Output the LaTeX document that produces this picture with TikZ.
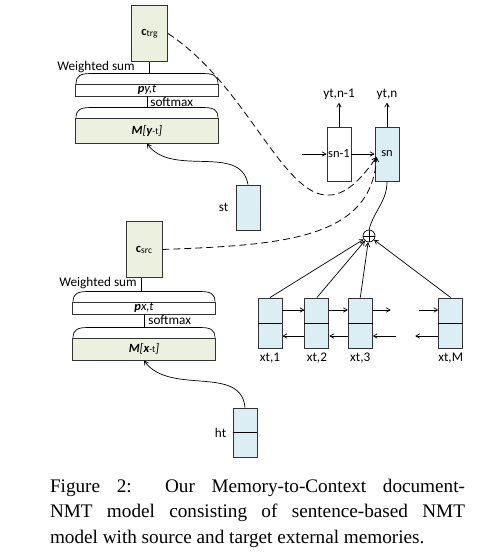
\documentclass[tikz,border=0pt]{standalone}
\usepackage{fontspec}
\setmainfont{Carlito}
\newfontfamily\capfont{Liberation Serif}
\usepackage{xcolor}
\usetikzlibrary{positioning, arrows, calc}
\definecolor{memgreen}{HTML}{EBF1DE}
\definecolor{hidblue}{HTML}{DBEEF3}
\newcommand{\subtxt}[1]{{\fontsize{9.5}{10}\selectfont #1}}
% rounded cap drawn over a probability / memory bar
\newcommand{\memcap}[1]{%
  \draw ($(#1.north west)+(1,0)$) .. controls +(0,8) and +(-9,0) .. ($(#1.north west)+(15,10)$)
     -- ($(#1.north east)+(-15,10)$) .. controls +(9,0) and +(0,8) .. ($(#1.north east)+(-1,0)$);}
\tikzset{>=angle 60,
         box/.style={draw=black!80, line width=0.9pt, inner sep=0pt, font=\fontsize{12.5}{13}\selectfont},
         hid/.style={box, fill=hidblue, minimum width=24pt},
         ctx/.style={box, fill=memgreen, minimum width=36pt, minimum height=56pt},
         mem/.style={box, fill=memgreen, minimum width=143pt},
         prob/.style={box, fill=white, minimum width=143pt, minimum height=12pt},
         lbl/.style={inner sep=1pt, font=\fontsize{13.2}{14}\selectfont},
         dashy/.style={dash pattern=on 7pt off 4pt, line width=0.8pt},
         }

\begin{document}
\begin{tikzpicture}[x=1pt, y=1pt, line width=0.7pt]
    \useasboundingbox (0,0) rectangle (479,-554);

    % target side memory
    \node[ctx] (ctrg) at (149.5,-33.5) {\textbf{c}\raisebox{-1pt}{\subtxt{trg}}};
    \node[prob] (py) at (147,-90) {{\bfseries\itshape p}{\itshape y,t}};
    \node[mem, minimum height=25pt] (My) at (147,-130.5) {{\bfseries\itshape M}{\itshape [}{\bfseries\itshape y}\subtxt{-t}{\itshape ]}};
    \memcap{py}
    \memcap{My}
    \node[lbl, anchor=east] (wsy) at (136,-67) {Weighted sum};
    \node[lbl, anchor=west] (smy) at (149,-102) {softmax};
    \draw (ctrg.south) -- ($(ctrg.south |- py.north)+(0,11)$);
    \draw (py.south) -- ($(py.south)+(0,-12)$);

    \node[hid, minimum height=45pt] (st) at (248,-207.5) {};
    \node[lbl, left=6pt of st] (stl) {st};
    \draw[->] (st.north) to[out=100, in=-55] (My.south);

    % source side memory
    \node[ctx] (csrc) at (144,-249.5) {\textbf{c}\raisebox{-1pt}{\subtxt{src}}};
    \node[prob] (px) at (144,-308) {{\bfseries\itshape p}{\itshape x,t}};
    \node[mem, minimum height=22pt] (Mx) at (144,-349) {{\bfseries\itshape M}{\itshape [}{\bfseries\itshape x}\subtxt{-t}{\itshape ]}};
    \memcap{px}
    \memcap{Mx}
    \node[lbl, anchor=east] (wsx) at (138,-283) {Weighted sum};
    \node[lbl, anchor=west] (smx) at (147,-320.5) {softmax};
    \draw ([xshift=-3pt]csrc.south) -- ($([xshift=-3pt]csrc.south |- px.north)+(0,11)$);
    \draw (px.south) -- ($(px.south)+(0,-13)$);

    \node[hid, minimum height=49pt] (ht) at (245,-432.5) {};
    \draw (ht.west) -- (ht.east);
    \node[lbl, left=5pt of ht] (htl) {ht};
    \draw[->] (ht.north) to[out=95, in=-55] (Mx.south);

    % decoder states
    \node[box, fill=white, minimum width=24pt, minimum height=54pt] (snm) at (339,-154) {sn-1};
    \node[hid, minimum height=54pt] (sn) at (387,-154) {sn};
    \node[lbl] (ynm) at (339,-94) {yt,n-1};
    \node[lbl] (yn) at (387,-94) {yt,n};
    \draw[->] (snm.north) -- ($(ynm.south)+(0,-2)$);
    \draw[->] (sn.north) -- ($(yn.south)+(0,-2)$);
    \coordinate (sin) at (302,-154);
    \draw[->] (sin) -- (snm);
    \draw[->] (snm) -- (sn);
    \coordinate (snin) at ($(sn.west)+(2,-3)$);
    \draw[dashy, ->] (ctrg.east) .. controls (270,-100) and (300,-270) .. (snin);
    \draw[dashy, ->] (csrc.east) .. controls (280,-245) and (372,-240) .. (snin);

    % attention over sentence states
    \node[circle, draw, minimum size=12pt, inner sep=0pt] (sum) at (369,-236) {};
    \draw (sum.north) -- (sum.south) (sum.west) -- (sum.east);
    \draw (sn.south) to[out=-90, in=75] (sum.north);

    \node[hid, minimum height=50pt] (x1) at (270,-323) {};
    \node[hid, minimum height=50pt, right=22pt of x1] (x2) {};
    \node[hid, minimum height=50pt, right=18.5pt of x2] (x3) {};
    \node[hid, minimum height=50pt, right=65.5pt of x3] (xM) {};
    \foreach \n/\t in {x1/1, x2/2, x3/3, xM/M} {
        \draw (\n.west) -- (\n.east);
        \node[lbl, below=3pt of \n] (\n l) {xt,\t};
        \draw[->] (\n.north) -- (sum);
    }

    \coordinate (up3) at ([xshift=18pt, yshift=13pt]x3.east);
    \coordinate (upM) at ([xshift=-19pt, yshift=13pt]xM.west);
    \coordinate (lo3) at ([xshift=23pt, yshift=-13pt]x3.east);
    \coordinate (loM) at ([xshift=-23pt, yshift=-13pt]xM.west);
    \draw[->] ([yshift=13pt]x1.east) -- ([yshift=13pt]x2.west);
    \draw[->] ([yshift=13pt]x2.east) -- ([yshift=13pt]x3.west);
    \draw[->] ([yshift=13pt]x3.east) -- (up3);
    \draw[->] (upM) -- ([yshift=13pt]xM.west);
    \draw[->] ([yshift=-13pt]x2.west) -- ([yshift=-13pt]x1.east);
    \draw[->] ([yshift=-13pt]x3.west) -- ([yshift=-13pt]x2.east);
    \draw[->] (lo3) -- ([yshift=-13pt]x3.east);
    \draw[->] ([yshift=-13pt]xM.west) -- (loM);

    % caption
    \node[text width=415pt, align=justify, inner sep=0pt, font=\capfont\fontsize{19.2}{25.5}\selectfont] (cap) at (257.5,-513)
        {Figure 2:\ \ Our Memory-to-Context document-\linebreak NMT model consisting of sentence-based NMT\linebreak model with source and target external memories.};
\end{tikzpicture}
\end{document}
